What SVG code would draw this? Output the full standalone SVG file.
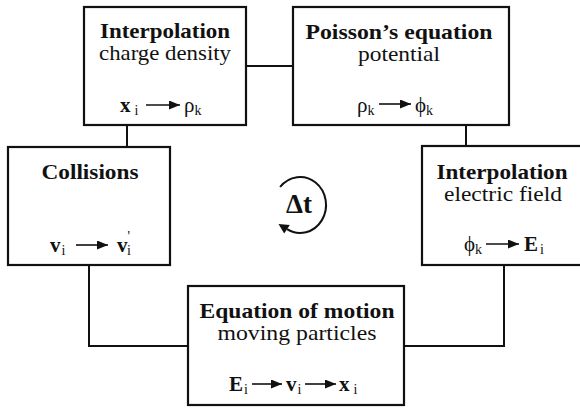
<svg xmlns="http://www.w3.org/2000/svg" width="580" height="409" viewBox="0 0 580 409">
<style>
.box{fill:#fff;stroke:#111;stroke-width:2.2}
.conn{fill:none;stroke:#111;stroke-width:2}
.t{font-family:"Liberation Serif","Times New Roman",Times,serif;fill:#111}
.b{font-weight:bold;font-size:21px}
.r{font-size:21px}
.m{font-size:21px}
.mb{font-size:21px;font-weight:bold}
.s{font-size:14px;font-weight:normal}
.arr{stroke:#111;stroke-width:1.6;marker-end:url(#ah)}
</style>
<defs>
<marker id="ah" markerUnits="userSpaceOnUse" markerWidth="11" markerHeight="9" refX="11" refY="4.5" orient="auto">
<path d="M0,0 L11,4.5 L0,9 z" fill="#111"/>
</marker>
</defs>
<rect width="580" height="409" fill="#fff"/>
<g id="connectors">
<path class="conn" d="M246,66 H293"/>
<path class="conn" d="M127,125 V147"/>
<path class="conn" d="M466,125 V146"/>
<path class="conn" d="M89,265 V346 H188"/>
<path class="conn" d="M504,265 V346 H404"/>
</g>
<g id="interp-charge">
<rect class="box" x="84" y="7" width="162" height="118"/>
<text class="t b" x="165" y="38" text-anchor="middle" textLength="130" lengthAdjust="spacingAndGlyphs">Interpolation</text>
<text class="t r" x="165" y="60" text-anchor="middle" textLength="132" lengthAdjust="spacingAndGlyphs">charge density</text>
<text class="t mb" x="120" y="112">x<tspan class="s" dx="4" dy="3">i</tspan></text>
<line class="arr" x1="146" y1="105" x2="180" y2="105"/>
<text class="t m" x="184" y="112">ρ<tspan class="s" dy="3">k</tspan></text>
</g>
<g id="poisson">
<rect class="box" x="293" y="7" width="216" height="118"/>
<text class="t b" x="399" y="39" text-anchor="middle" textLength="187" lengthAdjust="spacingAndGlyphs">Poisson’s equation</text>
<text class="t r" x="399" y="61" text-anchor="middle" textLength="82" lengthAdjust="spacingAndGlyphs">potential</text>
<text class="t m" x="357" y="112">ρ<tspan class="s" dy="3">k</tspan></text>
<line class="arr" x1="379" y1="104" x2="411" y2="104"/>
<text class="t m" x="415" y="112">ϕ<tspan class="s" dy="3">k</tspan></text>
</g>
<g id="collisions">
<rect class="box" x="8" y="147" width="162" height="118"/>
<text class="t b" x="90" y="179" text-anchor="middle" textLength="97" lengthAdjust="spacingAndGlyphs">Collisions</text>
<text class="t mb" x="50" y="252">v<tspan class="s" dx="1" dy="3">i</tspan></text>
<line class="arr" x1="76" y1="245" x2="108" y2="245"/>
<text class="t mb" x="117" y="252">v<tspan class="s" dx="0" dy="-11">'</tspan><tspan class="s" dx="-3" dy="14">i</tspan></text>
</g>
<g id="interp-field">
<rect class="box" x="422" y="146" width="170" height="119"/>
<text class="t b" x="502" y="179" text-anchor="middle" textLength="131" lengthAdjust="spacingAndGlyphs">Interpolation</text>
<text class="t r" x="503" y="201" text-anchor="middle" textLength="118" lengthAdjust="spacingAndGlyphs">electric field</text>
<text class="t m" x="464" y="251">ϕ<tspan class="s" dy="3">k</tspan></text>
<line class="arr" x1="486" y1="244" x2="519" y2="244"/>
<text class="t mb" x="524" y="251">E<tspan class="s" dx="2" dy="3">i</tspan></text>
</g>
<g id="motion">
<rect class="box" x="188" y="286" width="216" height="119"/>
<text class="t b" x="297" y="318" text-anchor="middle" textLength="195" lengthAdjust="spacingAndGlyphs">Equation of motion</text>
<text class="t r" x="297" y="340" text-anchor="middle" textLength="159" lengthAdjust="spacingAndGlyphs">moving particles</text>
<text class="t mb" x="229" y="391">E<tspan class="s" dx="1" dy="3">i</tspan></text>
<line class="arr" x1="252" y1="384" x2="282" y2="384"/>
<text class="t mb" x="286" y="391">v<tspan class="s" dx="1" dy="3">i</tspan></text>
<line class="arr" x1="305" y1="384" x2="336" y2="384"/>
<text class="t mb" x="339" y="391">x<tspan class="s" dx="4" dy="3">i</tspan></text>
</g>
<g id="timestep">
<path class="conn" d="M280.1,187 A26,28 0 1 1 287,229.2"/>
<polygon points="278.5,224 289.8,225 284.2,233.6" fill="#111"/>
<text class="t" x="299" y="213" text-anchor="middle" font-weight="bold" font-size="27">Δt</text>
</g>
</svg>
